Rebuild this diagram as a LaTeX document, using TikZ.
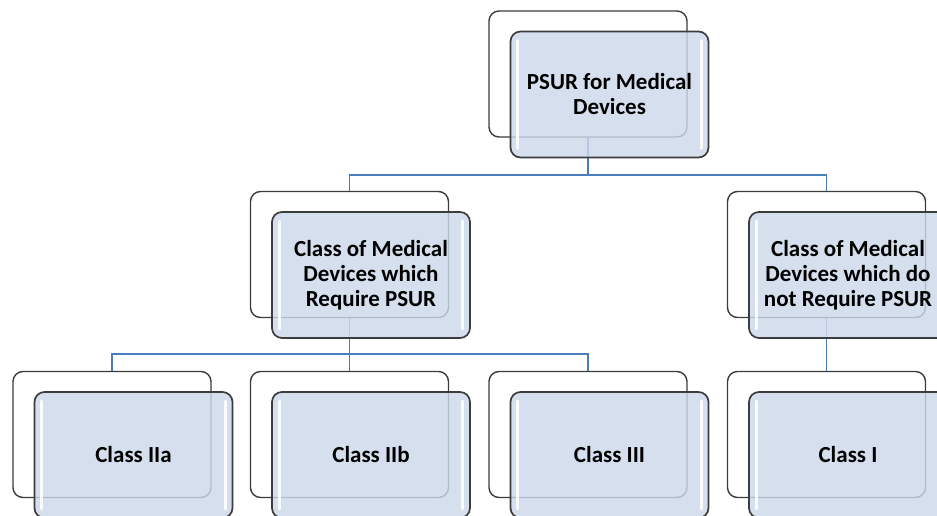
\documentclass[tikz,border=0pt]{standalone}
\usepackage{fontspec}
\setmainfont{Carlito}
\usetikzlibrary{backgrounds}
\definecolor{frontfill}{RGB}{205,216,234}
\definecolor{edgegray}{RGB}{60,60,60}
\definecolor{link}{RGB}{74,126,187}
\tikzset{
 backbox/.style={draw=edgegray, line width=1.4pt, fill=white, rounded corners=10pt, minimum width=198pt, minimum height=126pt, inner sep=0pt},
 frontbox/.style={draw=edgegray, line width=1.7pt, fill=frontfill, fill opacity=0.82, text opacity=1, rounded corners=10pt, minimum width=198pt, minimum height=126pt, inner sep=0pt, align=center, font=\fontsize{23}{25}\selectfont\bfseries},
 conn/.style={draw=link, line width=1.5pt},
 gloss/.style={white, line width=3pt, line cap=round, opacity=0.9}
}
\newcommand\stackpair[4]{%
  \node[backbox] (#1b) at (#2,#3) {};
  \node[frontbox] (#1) at ({#2+21.5},{#3+20.5}) {#4};
  \draw[gloss] ([xshift=8pt,yshift=-10pt]#1.north west) -- ([xshift=8pt,yshift=10pt]#1.south west);
  \draw[gloss] ([xshift=-8pt,yshift=-10pt]#1.north east) -- ([xshift=-8pt,yshift=10pt]#1.south east);
}
\begin{document}
\begin{tikzpicture}[x=1pt,y=-1pt]
\useasboundingbox (0,0) rectangle (937,516);
\clip (0,0) rectangle (937,516);
\stackpair{top}{588}{74}{PSUR for Medical\\Devices}
\stackpair{req}{349.5}{254.5}{Class of Medical\\Devices which\\Require PSUR}
\stackpair{nreq}{826.5}{254.5}{Class of Medical\\Devices which do\\not Require PSUR}
\stackpair{ca}{112}{434.5}{Class IIa}
\stackpair{cb}{349.5}{434.5}{Class IIb}
\stackpair{cc}{588}{434.5}{Class III}
\stackpair{ci}{826.5}{434.5}{Class I}
\coordinate (busone) at (0,175);
\coordinate (bustwo) at (0,354);
\begin{pgfonlayer}{background}
\draw[conn] (topb.center) -- (topb.center |- busone) -| (reqb.center);
\draw[conn] (topb.center |- busone) -| (nreqb.center);
\draw[conn] (reqb.center) -- (reqb.center |- bustwo) -| (cab.center);
\draw[conn] (reqb.center |- bustwo) -| (ccb.center);
\draw[conn] (reqb.center) -- (cbb.center);
\draw[conn] (nreqb.center) -- (cib.center);
\end{pgfonlayer}
\end{tikzpicture}
\end{document}
